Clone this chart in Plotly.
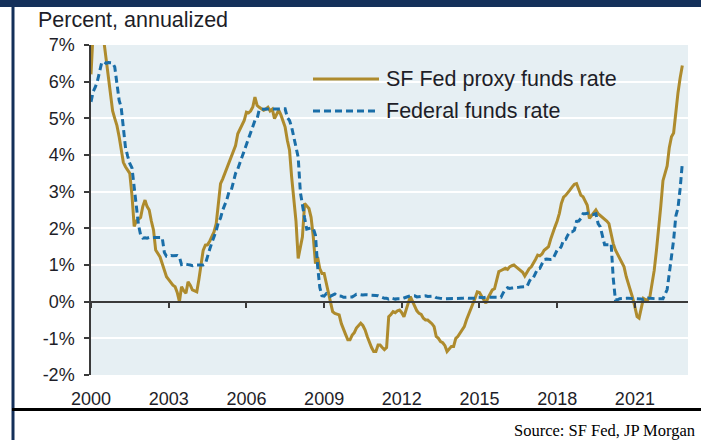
import pandas as pd
import plotly.graph_objects as go

# ---------------- data (monthly, Jan 2000 - Nov 2022) ----------------
dates = pd.date_range("2000-01-01", "2022-11-01", freq="MS")

proxy_rate = [
    # 2000
    6.2, 7.4, 7.7, 7.9, 7.9, 7.6, 7.1, 6.6, 6.1, 5.6, 5.2, 5.0,
    # 2001
    4.8, 4.5, 4.2, 3.8, 3.68, 3.6, 3.5, 2.9, 2.05, 2.2, 2.25, 2.3,
    # 2002
    2.6, 2.77, 2.6, 2.5, 2.2, 1.95, 1.41, 1.3, 1.22, 1.04, 0.85, 0.68,
    # 2003
    0.6, 0.5, 0.45, 0.41, 0.25, 0.0, 0.41, 0.3, 0.23, 0.54, 0.45, 0.32,
    # 2004
    0.3, 0.27, 0.6, 1.04, 1.4, 1.54, 1.55, 1.65, 1.77, 1.9, 2.13, 2.6,
    # 2005
    3.22, 3.35, 3.49, 3.7, 3.8, 3.95, 4.1, 4.26, 4.58, 4.7, 4.85, 4.94,
    # 2006
    5.17, 5.15, 5.2, 5.31, 5.58, 5.35, 5.3, 5.25, 5.22, 5.25, 5.3, 5.2,
    # 2007
    5.25, 4.99, 5.1, 5.22, 5.1, 4.9, 4.76, 4.4, 4.13, 3.4, 2.8, 2.2,
    # 2008
    1.18, 1.5, 1.77, 2.68, 2.6, 2.54, 2.3, 1.77, 1.04, 1.22, 0.9, 0.77,
    # 2009
    0.77, 0.5, 0.2, -0.04, -0.27, -0.32, -0.34, -0.36, -0.6, -0.77, -0.9, -1.04,
    # 2010
    -1.04, -0.91, -0.85, -0.72, -0.65, -0.59, -0.65, -0.77, -0.95, -1.13, -1.25, -1.36,
    # 2011
    -1.36, -1.18, -1.18, -1.25, -1.31, -1.25, -0.41, -0.35, -0.27, -0.3, -0.25, -0.23,
    # 2012
    -0.3, -0.41, -0.2, -0.04, 0.14, 0.0, -0.14, -0.25, -0.32, -0.35, -0.45, -0.5,
    # 2013
    -0.5, -0.55, -0.6, -0.68, -0.95, -1.0, -1.09, -1.12, -1.2, -1.36, -1.3, -1.22,
    # 2014
    -1.22, -1.0, -0.95, -0.86, -0.8, -0.68, -0.5, -0.36, -0.2, -0.04, 0.1, 0.27,
    # 2015
    0.25, 0.15, 0.05, -0.04, 0.1, 0.2, 0.32, 0.35, 0.6, 0.82, 0.85, 0.87,
    # 2016
    0.91, 0.88, 0.95, 0.98, 1.0, 0.95, 0.9, 0.85, 0.8, 0.7, 0.8, 0.9,
    # 2017
    0.95, 1.04, 1.15, 1.27, 1.25, 1.3, 1.4, 1.45, 1.5, 1.7, 1.9, 2.04,
    # 2018
    2.2, 2.41, 2.68, 2.85, 2.9, 2.99, 3.05, 3.13, 3.2, 3.22, 3.04, 2.9,
    # 2019
    2.86, 2.75, 2.63, 2.27, 2.35, 2.45, 2.5, 2.4, 2.35, 2.3, 2.27, 2.2,
    # 2020
    2.13, 1.8, 1.59, 1.41, 1.3, 1.18, 1.05, 0.95, 0.68, 0.5, 0.32, 0.1,
    # 2021
    -0.14, -0.41, -0.45, -0.14, 0.09, 0.05, 0.05, 0.14, 0.5, 0.86, 1.4, 1.95,
    # 2022
    2.6, 3.3, 3.5, 3.7, 4.2, 4.5, 4.6, 5.2, 5.7, 6.1, 6.44,
]

fed_funds = [
    # 2000
    5.45, 5.73, 5.85, 6.02, 6.27, 6.53, 6.54, 6.50, 6.52, 6.51, 6.51, 6.40,
    # 2001
    5.98, 5.49, 5.31, 4.80, 4.21, 3.97, 3.77, 3.65, 3.07, 2.49, 2.09, 1.82,
    # 2002
    1.73, 1.74, 1.73, 1.75, 1.75, 1.75, 1.73, 1.74, 1.75, 1.75, 1.34, 1.24,
    # 2003
    1.24, 1.26, 1.25, 1.26, 1.26, 1.22, 1.01, 1.03, 1.01, 1.01, 1.00, 0.98,
    # 2004
    1.00, 1.01, 1.00, 1.00, 1.00, 1.03, 1.26, 1.43, 1.61, 1.76, 1.93, 2.16,
    # 2005
    2.28, 2.50, 2.63, 2.79, 3.00, 3.04, 3.26, 3.50, 3.62, 3.78, 4.00, 4.16,
    # 2006
    4.29, 4.49, 4.59, 4.79, 4.94, 4.99, 5.24, 5.25, 5.25, 5.25, 5.25, 5.24,
    # 2007
    5.25, 5.26, 5.26, 5.25, 5.25, 5.25, 5.26, 5.02, 4.94, 4.76, 4.49, 4.24,
    # 2008
    3.94, 2.98, 2.61, 2.28, 1.98, 2.00, 2.01, 2.00, 1.81, 0.97, 0.39, 0.16,
    # 2009
    0.15, 0.22, 0.18, 0.15, 0.18, 0.21, 0.16, 0.16, 0.15, 0.12, 0.12, 0.12,
    # 2010
    0.11, 0.13, 0.16, 0.20, 0.20, 0.18, 0.18, 0.19, 0.19, 0.19, 0.19, 0.18,
    # 2011
    0.17, 0.16, 0.14, 0.10, 0.09, 0.09, 0.07, 0.10, 0.08, 0.07, 0.08, 0.07,
    # 2012
    0.08, 0.10, 0.13, 0.14, 0.16, 0.16, 0.16, 0.13, 0.14, 0.16, 0.16, 0.16,
    # 2013
    0.14, 0.15, 0.14, 0.15, 0.11, 0.09, 0.09, 0.08, 0.08, 0.09, 0.08, 0.09,
    # 2014
    0.07, 0.07, 0.08, 0.09, 0.09, 0.10, 0.09, 0.09, 0.09, 0.09, 0.09, 0.12,
    # 2015
    0.11, 0.11, 0.11, 0.12, 0.12, 0.13, 0.13, 0.14, 0.14, 0.12, 0.12, 0.24,
    # 2016
    0.34, 0.38, 0.36, 0.37, 0.37, 0.38, 0.39, 0.40, 0.40, 0.40, 0.41, 0.54,
    # 2017
    0.65, 0.66, 0.79, 0.90, 0.91, 1.04, 1.15, 1.16, 1.15, 1.15, 1.16, 1.30,
    # 2018
    1.41, 1.42, 1.51, 1.69, 1.70, 1.82, 1.91, 1.91, 1.95, 2.19, 2.20, 2.27,
    # 2019
    2.40, 2.40, 2.41, 2.42, 2.39, 2.38, 2.40, 2.13, 2.04, 1.83, 1.55, 1.55,
    # 2020
    1.55, 1.58, 0.65, 0.05, 0.05, 0.08, 0.09, 0.10, 0.09, 0.09, 0.09, 0.09,
    # 2021
    0.09, 0.08, 0.07, 0.07, 0.06, 0.08, 0.10, 0.09, 0.08, 0.08, 0.08, 0.08,
    # 2022
    0.08, 0.08, 0.20, 0.33, 0.77, 1.21, 1.68, 2.33, 2.56, 3.08, 3.78,
]

series_names = ["SF Fed proxy funds rate", "Federal funds rate"]
y_tick_vals = [-2, -1, 0, 1, 2, 3, 4, 5, 6, 7]
y_tick_text = ["-2%", "-1%", "0%", "1%", "2%", "3%", "4%", "5%", "6%", "7%"]
x_tick_years = [2000, 2003, 2006, 2009, 2012, 2015, 2018, 2021]
y_title = "Percent, annualized"
source_text = "Source: SF Fed, JP Morgan"

# ---------------- styling ----------------
W, H = 701, 440
ML, MR, MT, MB = 91, 13, 45, 65
GOLD = "#AE8B2D"
BLUE = "#1A6EA8"
BG = "#E6EFF3"
TXT = "#1E1E28"
FONT = "Arial, Liberation Sans, sans-serif"
Y_RANGE = [-2, 7]
X_RANGE = ["2000-01-01", "2023-01-20"]

pw, ph = W - ML - MR, H - MT - MB


def px(xp):
    return (xp - ML) / pw


def py(yp):
    return (H - MB - yp) / ph


fig = go.Figure()
fig.add_trace(go.Scatter(x=dates, y=proxy_rate, mode="lines", name=series_names[0],
                         line=dict(color=GOLD, width=3), showlegend=False))
fig.add_trace(go.Scatter(x=dates, y=fed_funds, mode="lines", name=series_names[1],
                         line=dict(color=BLUE, width=3, dash="7px,4px"), showlegend=False))
# helper (empty) trace so the zero-line axis with tick marks is drawn
fig.add_trace(go.Scatter(x=[], y=[], xaxis="x2", yaxis="y", showlegend=False, hoverinfo="skip"))

tickdates = [f"{y}-01-01" for y in x_tick_years]

fig.update_layout(
    width=W, height=H,
    margin=dict(l=ML, r=MR, t=MT, b=MB),
    paper_bgcolor="white",
    plot_bgcolor=BG,
    font=dict(family=FONT, color=TXT),
    xaxis=dict(type="date", range=X_RANGE, tickvals=tickdates, ticktext=[str(y) for y in x_tick_years],
               showgrid=False, zeroline=False, showline=False, ticks="",
               tickfont=dict(size=18, color=TXT), ticklabelstandoff=11),
    xaxis2=dict(type="date", range=X_RANGE, tickvals=tickdates, overlaying="x", anchor="free",
                position=(0 - Y_RANGE[0]) / (Y_RANGE[1] - Y_RANGE[0]),
                showgrid=False, zeroline=False, showline=True, linecolor="#3A3A3A", linewidth=2,
                ticks="outside", ticklen=5, tickwidth=1.5, tickcolor="#3A3A3A",
                showticklabels=False),
    yaxis=dict(range=Y_RANGE, tickvals=y_tick_vals, ticktext=y_tick_text,
               showgrid=True, gridcolor="white", gridwidth=2, zeroline=False,
               showline=True, linecolor="#3A3A3A", linewidth=1.5,
               ticks="outside", ticklen=5, tickwidth=1.5, tickcolor="#3A3A3A",
               tickfont=dict(size=18, color=TXT), ticklabelstandoff=6),
    showlegend=False,
)

shapes = [
    # navy top band
    dict(type="rect", xref="paper", yref="paper", x0=px(0), x1=px(701), y0=py(7), y1=py(0),
         fillcolor="#14305A", line=dict(width=0), layer="above"),
    # left navy frame line
    dict(type="line", xref="paper", yref="paper", x0=px(13), x1=px(13), y0=py(0), y1=py(440),
         line=dict(color="#14305A", width=3)),
    # bottom black rule
    dict(type="line", xref="paper", yref="paper", x0=px(12), x1=px(701), y0=py(409.5), y1=py(409.5),
         line=dict(color="black", width=3)),
    # legend samples
    dict(type="line", xref="paper", yref="paper", x0=px(313), x1=px(379), y0=py(79), y1=py(79),
         line=dict(color=GOLD, width=3)),
    dict(type="line", xref="paper", yref="paper", x0=px(313), x1=px(379), y0=py(111), y1=py(111),
         line=dict(color=BLUE, width=3, dash="7px,4px")),
]

annotations = [
    dict(text=y_title, xref="paper", yref="paper", x=px(36), y=py(20), xanchor="left", yanchor="middle",
         showarrow=False, font=dict(size=21.5, color=TXT, family=FONT)),
    dict(text=series_names[0], xref="paper", yref="paper", x=px(384), y=py(79), xanchor="left",
         yanchor="middle", showarrow=False, font=dict(size=21.5, color=TXT, family=FONT)),
    dict(text=series_names[1], xref="paper", yref="paper", x=px(384), y=py(111), xanchor="left",
         yanchor="middle", showarrow=False, font=dict(size=21.5, color=TXT, family=FONT)),
    dict(text=source_text, xref="paper", yref="paper", x=px(697), y=py(430), xanchor="right",
         yanchor="middle", showarrow=False,
         font=dict(size=16.5, color="black", family="Liberation Serif, Times New Roman, serif")),
]

fig.update_layout(shapes=shapes, annotations=annotations)
fig.write_html("out.html", config={"displayModeBar": False},
               post_script="document.body.style.margin='0px';")
